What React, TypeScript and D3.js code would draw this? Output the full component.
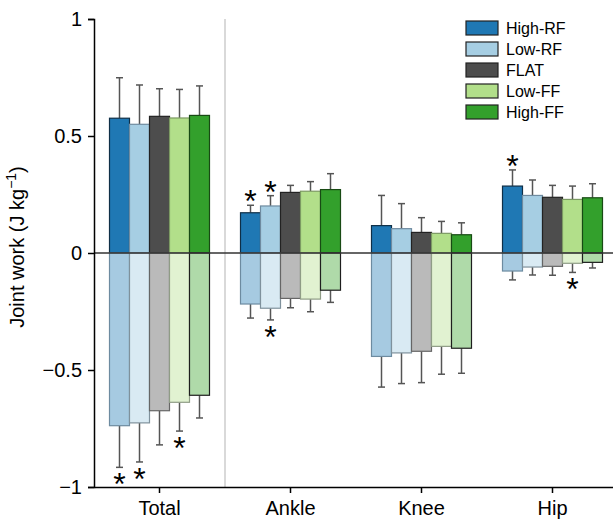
import React, { useEffect, useRef } from "react";
import * as d3 from "d3";

const categories = ["Total", "Ankle", "Knee", "Hip"];
const series = ["High-RF", "Low-RF", "FLAT", "Low-FF", "High-FF"];

// positive work (mean, error top) per series across categories
const posMean = [
  [0.576, 0.172, 0.117, 0.286],
  [0.55, 0.201, 0.104, 0.246],
  [0.584, 0.259, 0.088, 0.238],
  [0.577, 0.264, 0.084, 0.229],
  [0.588, 0.271, 0.078, 0.236],
];
const posErr = [
  [0.749, 0.204, 0.246, 0.355],
  [0.718, 0.245, 0.211, 0.312],
  [0.702, 0.289, 0.151, 0.289],
  [0.699, 0.305, 0.135, 0.286],
  [0.714, 0.339, 0.129, 0.296],
];
// negative work
const negMean = [
  [-0.738, -0.218, -0.442, -0.077],
  [-0.726, -0.236, -0.427, -0.06],
  [-0.674, -0.194, -0.42, -0.057],
  [-0.638, -0.197, -0.399, -0.044],
  [-0.608, -0.159, -0.407, -0.04],
];
const negErr = [
  [-0.916, -0.278, -0.573, -0.115],
  [-0.893, -0.286, -0.558, -0.094],
  [-0.82, -0.234, -0.554, -0.095],
  [-0.761, -0.251, -0.518, -0.083],
  [-0.705, -0.211, -0.514, -0.064],
];

// significance markers: [category, series, side]
const stars: [string, string, "pos" | "neg"][] = [
  ["Total", "High-RF", "neg"],
  ["Total", "Low-RF", "neg"],
  ["Total", "Low-FF", "neg"],
  ["Ankle", "High-RF", "pos"],
  ["Ankle", "Low-RF", "pos"],
  ["Ankle", "Low-RF", "neg"],
  ["Hip", "High-RF", "pos"],
  ["Hip", "Low-FF", "neg"],
];

const yTicks = [-1, -0.5, 0, 0.5, 1];

const posColors = ["#1f78b4", "#a6cee3", "#4d4d4d", "#b2df8a", "#33a02c"];
const negColors = ["#a6cae1", "#d9eaf3", "#bababa", "#e1f2d1", "#afdaa9"];
const posStroke = ["#0f2f47", "#6f8ba0", "#222222", "#7c9a63", "#184a14"];
const negStroke = ["#6d8ba0", "#7f919c", "#666666", "#8f9c86", "#1e1e1e"];

const App = () => {
  const ref = useRef<SVGSVGElement>(null);

  useEffect(() => {
    const width = 613;
    const font = "'Liberation Sans', Arial, sans-serif";

    const svg = d3.select(ref.current);
    svg.selectAll("*").remove();

    const y = d3.scaleLinear().domain([-1, 1]).range([487, 19]);
    const x0 = d3.scaleBand().domain(categories).range([94, 618]);
    const x1 = d3
      .scaleBand()
      .domain(series)
      .range([0, x0.bandwidth()])
      .paddingInner(0)
      .paddingOuter(0.775);

    // divider between Total and joints
    svg
      .append("line")
      .attr("x1", 225)
      .attr("x2", 225)
      .attr("y1", y(1))
      .attr("y2", y(-1))
      .attr("stroke", "#cccccc")
      .attr("stroke-width", 1.5);

    const rows: any[] = [];
    series.forEach((s, si) => {
      categories.forEach((c, ci) => {
        rows.push({ c, s, si, v: posMean[si][ci], e: posErr[si][ci], side: "pos" });
        rows.push({ c, s, si, v: negMean[si][ci], e: negErr[si][ci], side: "neg" });
      });
    });

    const bx = (d: any) => (x0(d.c) as number) + (x1(d.s) as number);
    const bw = x1.bandwidth();

    // error bars
    const eg = svg.append("g").attr("stroke", "#555").attr("stroke-width", 1.5);
    rows.forEach(d => {
      const cx = bx(d) + bw / 2;
      eg.append("line")
        .attr("x1", cx).attr("x2", cx)
        .attr("y1", y(d.v)).attr("y2", y(d.e));
      eg.append("line")
        .attr("x1", cx - 3.5).attr("x2", cx + 3.5)
        .attr("y1", y(d.e)).attr("y2", y(d.e));
    });

    // bars
    svg
      .append("g")
      .selectAll("rect")
      .data(rows)
      .enter()
      .append("rect")
      .attr("x", d => bx(d))
      .attr("width", bw)
      .attr("y", d => y(Math.max(0, d.v)))
      .attr("height", d => Math.abs(y(d.v) - y(0)))
      .attr("fill", d => (d.side === "pos" ? posColors[d.si] : negColors[d.si]))
      .attr("stroke", d => (d.side === "pos" ? posStroke[d.si] : negStroke[d.si]))
      .attr("stroke-width", 1.2);

    // zero line
    svg
      .append("line")
      .attr("x1", 94)
      .attr("x2", width)
      .attr("y1", y(0))
      .attr("y2", y(0))
      .attr("stroke", "#333")
      .attr("stroke-width", 1.5);

    // stars
    svg
      .append("g")
      .selectAll("text")
      .data(stars)
      .enter()
      .append("text")
      .attr("x", d => (x0(d[0]) as number) + (x1(d[1]) as number) + bw / 2)
      .attr("y", d => {
        const si = series.indexOf(d[1]);
        const ci = categories.indexOf(d[0]);
        const e = d[2] === "pos" ? posErr[si][ci] : negErr[si][ci];
        const cy = d[2] === "pos" ? y(e) - 11 : y(e) + 10;
        return cy + 18;
      })
      .attr("text-anchor", "middle")
      .attr("font-family", font)
      .attr("font-size", 32)
      .attr("fill", "#000")
      .text("*");

    // y axis
    const ya = svg
      .append("g")
      .attr("transform", `translate(94,0)`)
      .call(
        d3.axisLeft(y).tickValues(yTicks).tickSize(6).tickPadding(6)
          .tickFormat(d => d3.format("~g")(d as number))
      );
    ya.select(".domain").attr("stroke", "#000").attr("stroke-width", 1.5);
    ya.selectAll(".tick line").attr("stroke", "#000").attr("stroke-width", 1.5);
    ya.selectAll(".tick text")
      .attr("font-family", font)
      .attr("font-size", 20)
      .attr("fill", "#000");

    // x axis
    const xa = svg
      .append("g")
      .attr("transform", `translate(0,${y(-1)})`)
      .call(d3.axisBottom(x0).tickSize(6).tickSizeOuter(0).tickPadding(8));
    xa.select(".domain").attr("stroke", "#000").attr("stroke-width", 1.5);
    xa.selectAll(".tick line").attr("stroke", "#000").attr("stroke-width", 1.5);
    xa.selectAll(".tick text")
      .attr("font-family", font)
      .attr("font-size", 20)
      .attr("fill", "#000");

    // y label
    const yl = svg
      .append("text")
      .attr("transform", `translate(24,247) rotate(-90)`)
      .attr("text-anchor", "middle")
      .attr("font-family", font)
      .attr("font-size", 20)
      .attr("fill", "#000");
    yl.append("tspan").text("Joint work (J kg");
    yl.append("tspan").attr("font-size", 14).attr("dy", -8).text("\u22121");
    yl.append("tspan").attr("dy", 8).text(")");

    // legend
    const lg = svg.append("g").attr("transform", "translate(466,21)");
    series.forEach((s, i) => {
      const row = lg.append("g").attr("transform", `translate(0,${i * 21})`);
      row.append("rect")
        .attr("width", 32)
        .attr("height", 14)
        .attr("fill", posColors[i])
        .attr("stroke", "#222")
        .attr("stroke-width", 1.2);
      row.append("text")
        .attr("x", 40)
        .attr("y", 13)
        .attr("font-family", font)
        .attr("font-size", 16)
        .attr("fill", "#000")
        .text(s);
    });
  }, []);

  return (
    <svg
      ref={ref}
      width={613}
      height={520}
      style={{ position: "absolute", left: 0, top: 0, background: "#fff" }}
    ></svg>
  );
};

export default App;
